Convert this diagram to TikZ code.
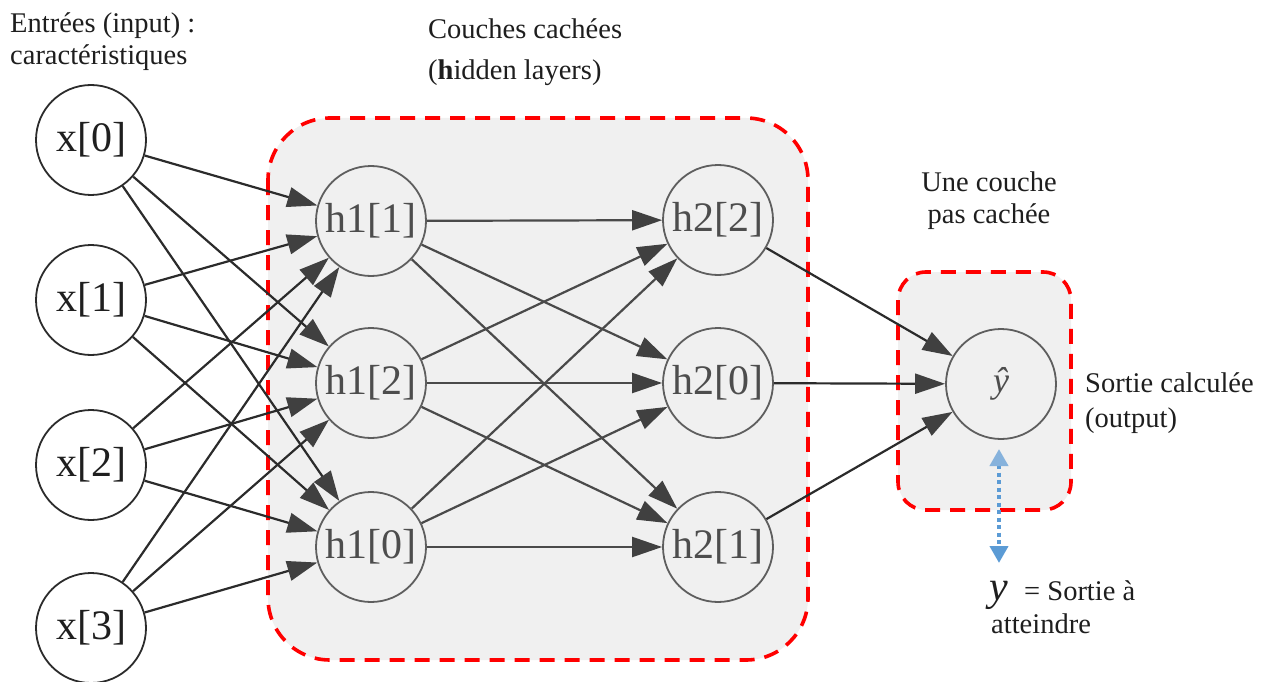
\documentclass[tikz,border=0pt]{standalone}
\usepackage{fontspec}
\setmainfont{Liberation Serif}
\usetikzlibrary{arrows.meta}
\definecolor{boxgray}{HTML}{F0F0F0}
\definecolor{dashred}{HTML}{FF0000}
\definecolor{edgedark}{HTML}{2B2B2B}
\definecolor{edgegray}{HTML}{4A4A4A}
\definecolor{hgray}{HTML}{5E5E5E}
\definecolor{htext}{HTML}{4D4D4D}
\definecolor{tipgray}{HTML}{404040}
\definecolor{blueish}{HTML}{5B9BD5}
\definecolor{lightblue}{HTML}{86B2DC}
\definecolor{annot}{HTML}{1E1E1E}
\tikzset{
  inode/.style={circle, draw=edgedark, line width=1.8pt, fill=white, minimum size=110pt, inner sep=0pt, font=\fontsize{42}{42}\selectfont, text=black!88},
  hnode/.style={circle, draw=hgray, line width=1.8pt, fill=boxgray, minimum size=110pt, inner sep=0pt, font=\fontsize{42}{42}\selectfont, text=htext},
  conn/.style={draw=#1, line width=2.2pt, -{Triangle[length=30pt,width=20pt,fill=tipgray,color=tipgray]}},
  redbox/.style={draw=dashred, line width=3.6pt, dash pattern=on 15pt off 10pt, fill=boxgray},
  annotation/.style={font=\fontsize{28.5}{32}\selectfont, text=annot, inner sep=0pt},
}
\begin{document}
\begin{tikzpicture}[x=1pt,y=-1pt]
\useasboundingbox (0,0) rectangle (1264,682);
% boxes
\path[redbox, rounded corners=62pt] (268,118) rectangle (808,660);
\path[redbox, rounded corners=28pt] (898,272) rectangle (1071,510);
% input nodes
\node[inode] (x0) at (91,140) {x[0]};
\node[inode] (x1) at (91,300) {x[1]};
\node[inode] (x2) at (91,465) {x[2]};
\node[inode] (x3) at (91,628) {x[3]};
% hidden layer 1
\node[hnode] (h11) at (371,221) {h1[1]};
\node[hnode] (h12) at (371,383) {h1[2]};
\node[hnode] (h10) at (371,547) {h1[0]};
% hidden layer 2
\node[hnode] (h22) at (718,220) {h2[2]};
\node[hnode] (h20) at (718,383) {h2[0]};
\node[hnode] (h21) at (718,547) {h2[1]};
% output
\node[hnode, font=\fontsize{36}{36}\selectfont\itshape] (yh) at (1001,384) {ŷ};
% edges input -> h1
\foreach \a in {x0,x1,x2,x3}{
  \foreach \b in {h11,h12,h10}{
    \draw[conn=edgedark] (\a) -- (\b);
  }
}
% edges h1 -> h2
\foreach \a in {h11,h12,h10}{
  \foreach \b in {h22,h20,h21}{
    \draw[conn=edgegray] (\a) -- (\b);
  }
}
% edges h2 -> output
\foreach \a in {h22,h20,h21}{
  \draw[conn=edgedark] (\a) -- (yh);
}
% target arrow
\coordinate (ytop) at (999,449);
\coordinate (ybot) at (999,563);
\draw[blueish, line width=4pt, dash pattern=on 4pt off 3.5pt, {Triangle[length=17pt,width=18pt,fill=lightblue,color=lightblue]}-{Triangle[length=17pt,width=18pt,fill=blueish]}] (ytop) -- (ybot);
% annotations
\node[annotation, anchor=base west] (tin1) at (10,33) {Entrées (input) :};
\node[annotation, anchor=base west] (tin2) at (10,65) {caractéristiques};
\node[annotation, anchor=base west] (thid1) at (428,39) {Couches cachées};
\node[annotation, anchor=base west] (thid2) at (428,80) {(\textbf{h}idden layers)};
\node[annotation, anchor=base] (tout1) at (989,192) {Une couche};
\node[annotation, anchor=base] (tout2) at (989,223) {pas cachée};
\node[annotation, anchor=base west] (tcalc1) at (1085,392) {Sortie calculée};
\node[annotation, anchor=base west] (tcalc2) at (1085,427) {(output)};
\node[annotation, anchor=base west, font=\fontsize{42}{42}\selectfont\itshape] (tyy) at (989,600) {y};
\node[annotation, anchor=base west] (ty) at (1024,600) {= Sortie à};
\node[annotation, anchor=base west] (ty2) at (991,633) {atteindre};
\end{tikzpicture}
\end{document}
